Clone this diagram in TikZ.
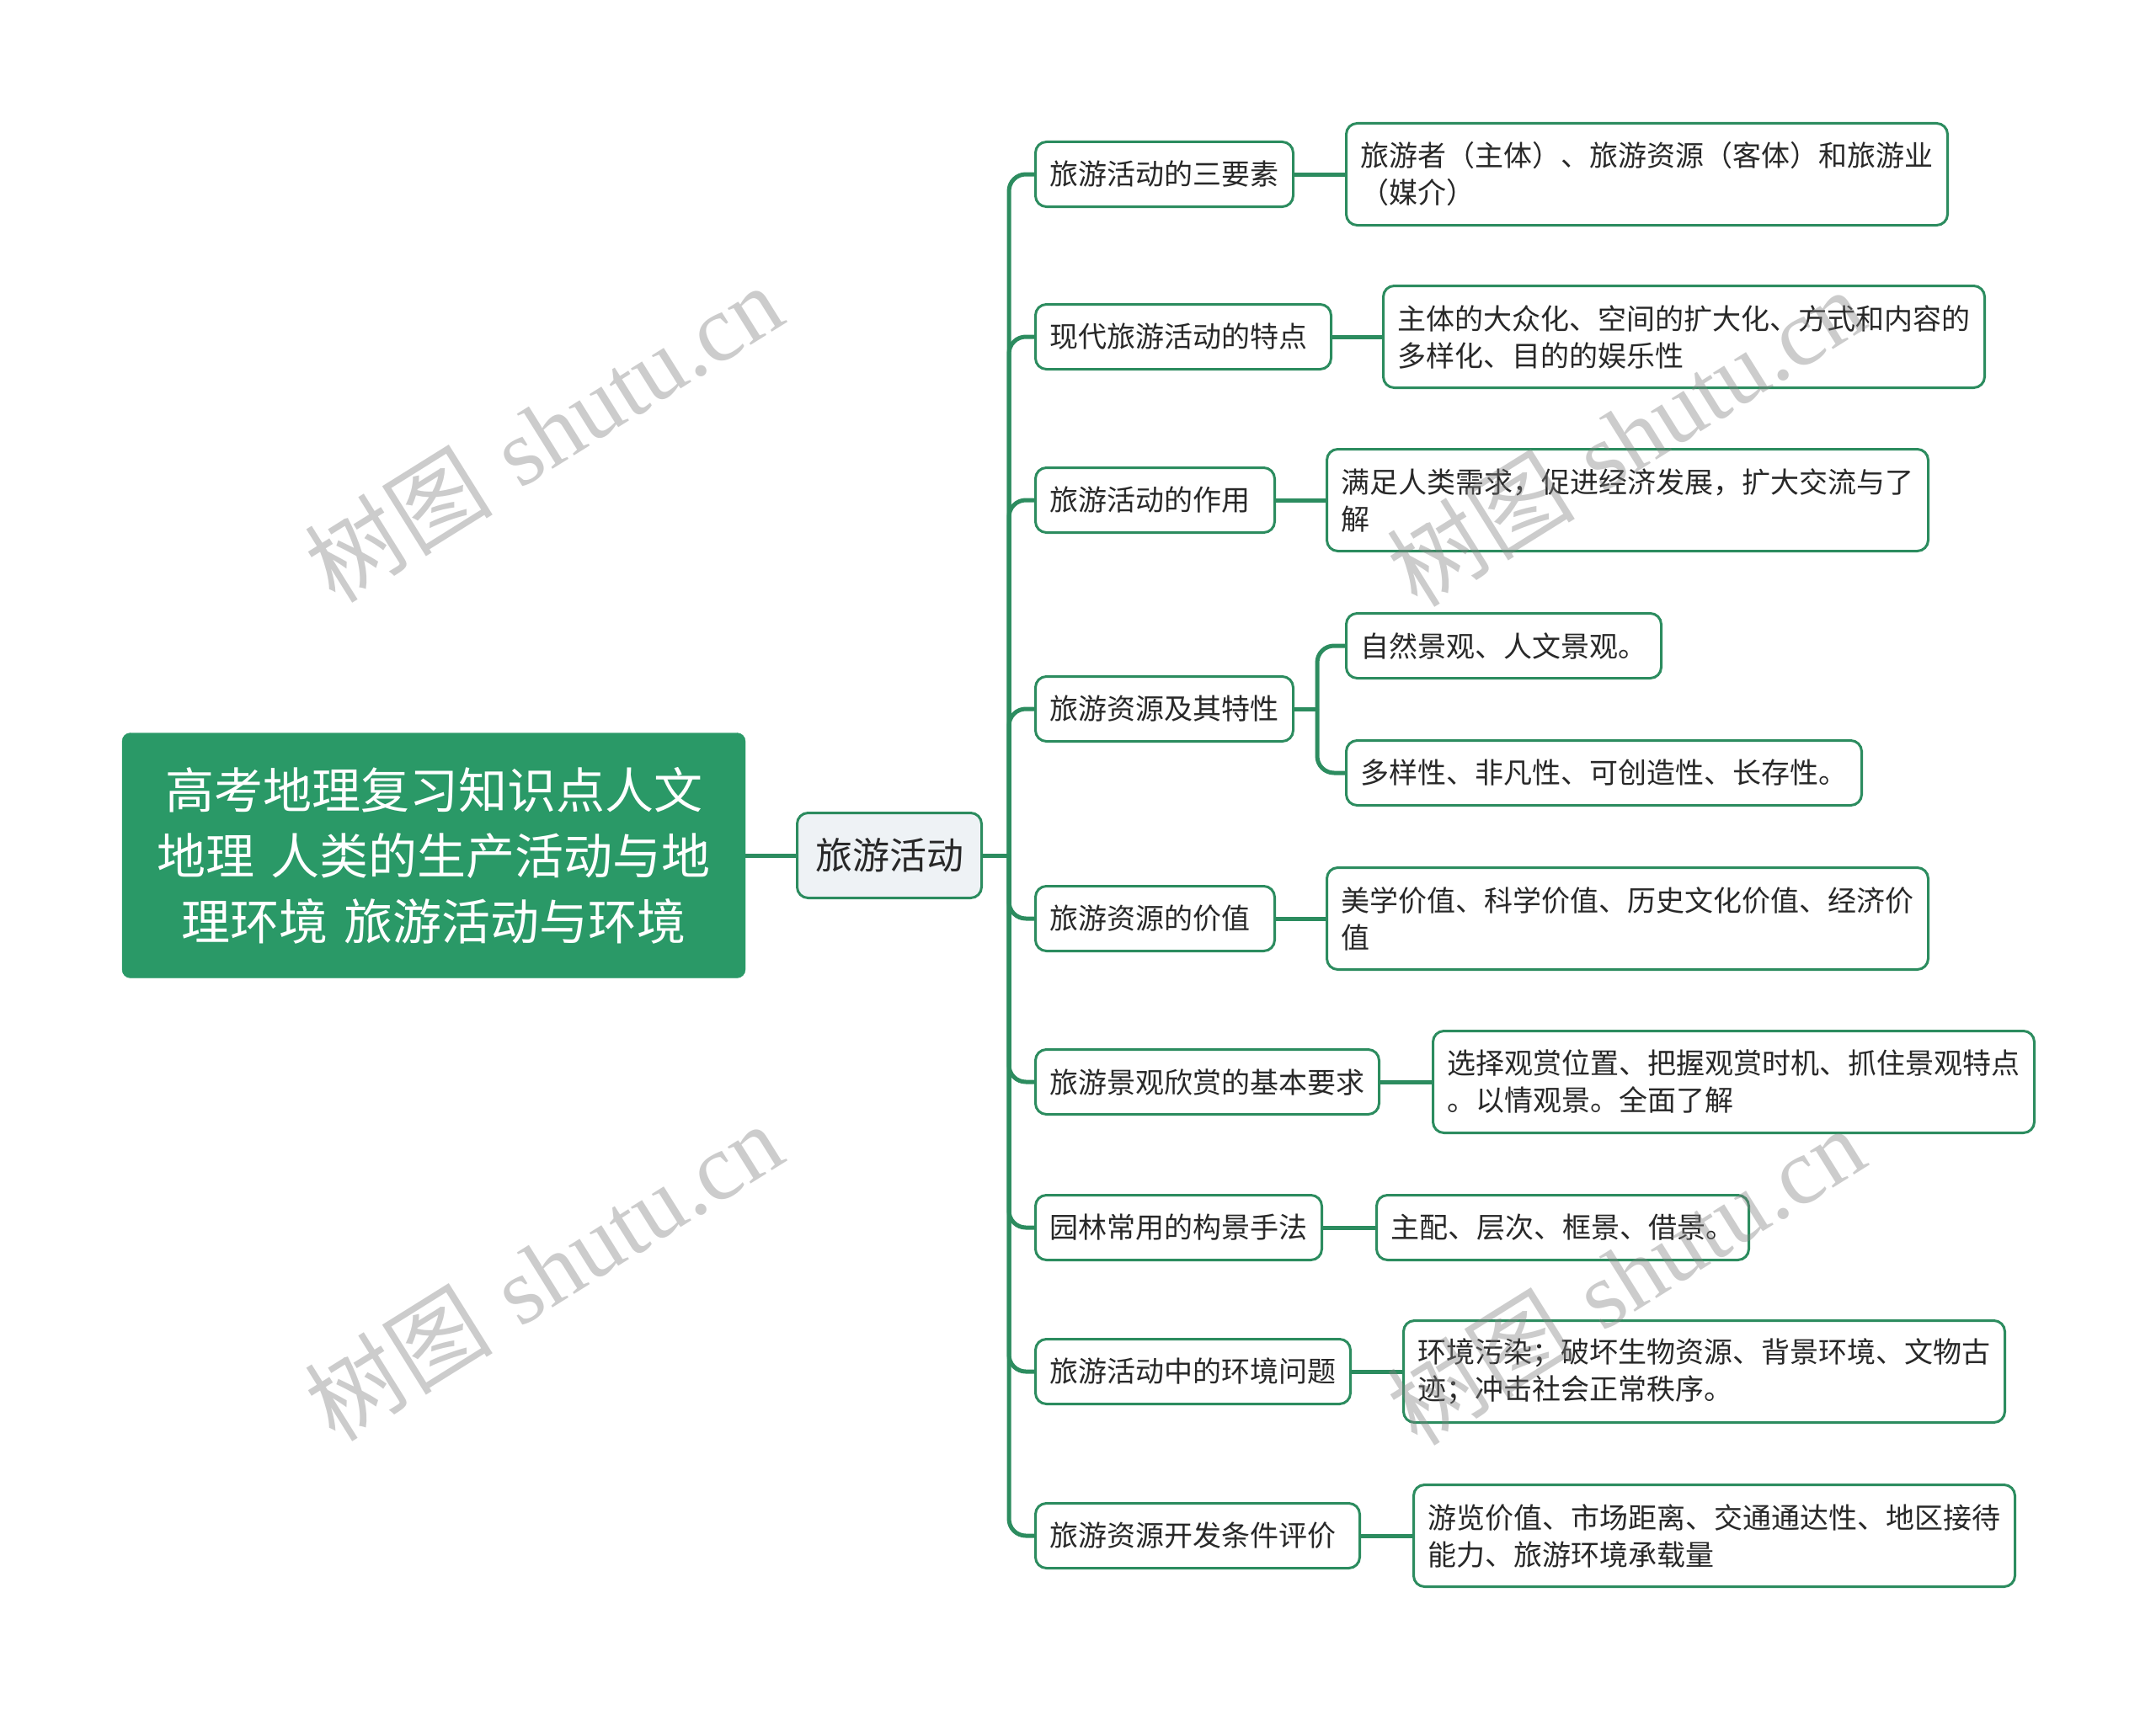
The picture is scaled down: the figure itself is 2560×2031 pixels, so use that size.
\documentclass[tikz,border=0pt]{standalone}
\usepackage{fontspec}
\newfontfamily\cjk{Noto Sans CJK SC}
\newfontfamily\wmlat{Liberation Serif}
\definecolor{rootgreen}{RGB}{42,153,103}
\definecolor{linegreen}{RGB}{44,140,95}
\definecolor{lvlfill}{RGB}{238,242,245}
\definecolor{txt}{RGB}{40,40,40}
\begin{document}
\begin{tikzpicture}[x=1pt,y=-1pt,
 rootbox/.style={draw=rootgreen, fill=rootgreen, rounded corners=10pt, text=white, minimum width=740pt, minimum height=291pt, text width=700pt, align=center, font=\cjk\fontsize{58}{78}\selectfont, inner sep=0pt},
 lonebox/.style={draw=linegreen, line width=3pt, fill=lvlfill, rounded corners=13pt, minimum width=219pt, minimum height=101pt, font=\cjk\fontsize{44}{52}\selectfont, text=txt},
 ltwobox/.style={draw=linegreen, line width=3pt, fill=white, rounded corners=13pt, minimum height=77pt, inner xsep=17pt, font=\cjk\fontsize{34}{44}\selectfont, text=txt, anchor=west},
 widebox/.style={ltwobox, text width=#1, align=left},
 lthreebox/.style={ltwobox, align=left},
 lthreetwo/.style={lthreebox, minimum height=121pt},
 conn/.style={draw=linegreen, line width=5pt, rounded corners=20pt},
 wmark/.style={text=black!50, opacity=0.4, rotate=32, font=\fontsize{112}{112}\selectfont}
]
\fill[white] (0,0) rectangle (2560,2031);
\useasboundingbox (0,0) rectangle (2560,2031);

\node[rootbox] (root) at (515,1016) {高考地理复习知识点人文\\地理 人类的生产活动与地\\理环境 旅游活动与环境};
\node[lonebox] (l1) at (1056,1016) {旅游活动};

\node[ltwobox] (a1) at (1228,207) {旅游活动的三要素};
\node[widebox=317pt] (a2) at (1228,400) {现代旅游活动的特点};
\node[widebox=250pt] (a3) at (1228,594) {旅游活动的作用};
\node[ltwobox] (a4) at (1228,842) {旅游资源及其特性};
\node[widebox=250pt] (a5) at (1228,1091) {旅游资源的价值};
\node[ltwobox] (a6) at (1228,1285) {旅游景观欣赏的基本要求};
\node[ltwobox] (a7) at (1228,1458) {园林常用的构景手法};
\node[ltwobox] (a8) at (1228,1629) {旅游活动中的环境问题};
\node[widebox=351pt] (a9) at (1228,1824) {旅游资源开发条件评价};

\node[lthreetwo] (b1) at (1597,207) {旅游者（主体）、旅游资源（客体）和旅游业\\（媒介）};
\node[lthreetwo] (b2) at (1641,400) {主体的大众化、空间的扩大化、方式和内容的\\多样化、目的的娱乐性};
\node[lthreetwo] (b3) at (1574,594) {满足人类需求，促进经济发展，扩大交流与了\\解};
\node[lthreebox] (b4a) at (1597,767) {自然景观、人文景观。};
\node[lthreebox] (b4b) at (1597,918) {多样性、非凡性、可创造性、长存性。};
\node[lthreetwo] (b5) at (1574,1091) {美学价值、科学价值、历史文化价值、经济价\\值};
\node[lthreetwo] (b6) at (1700,1285) {选择观赏位置、把握观赏时机、抓住景观特点\\。以情观景。全面了解};
\node[lthreebox] (b7) at (1633,1458) {主配、层次、框景、借景。};
\node[lthreetwo] (b8) at (1665,1629) {环境污染；破坏生物资源、背景环境、文物古\\迹；冲击社会正常秩序。};
\node[lthreetwo] (b9) at (1677,1824) {游览价值、市场距离、交通通达性、地区接待\\能力、旅游环境承载量};

\coordinate (t0) at (1198,1016);
\coordinate (t4) at (1564,842);
\draw[conn] (root.east) -- (l1.west);
\draw[conn] (l1.east) -- (t0);
\foreach \i in {1,...,9} {\draw[conn] (t0) |- (a\i.west);}
\draw[conn] (a1.east) -- (b1.west);
\draw[conn] (a2.east) -- (b2.west);
\draw[conn] (a3.east) -- (b3.west);
\draw[conn] (a4.east) -- (t4);
\draw[conn] (t4) |- (b4a.west);
\draw[conn] (t4) |- (b4b.west);
\draw[conn] (a5.east) -- (b5.west);
\draw[conn] (a6.east) -- (b6.west);
\draw[conn] (a7.east) -- (b7.west);
\draw[conn] (a8.east) -- (b8.west);
\draw[conn] (a9.east) -- (b9.west);

\node[wmark] (w1) at (645,514) {{\cjk 树图} {\wmlat shutu.cn}};
\node[wmark] (w2) at (645,1510) {{\cjk 树图} {\wmlat shutu.cn}};
\node[wmark] (w3) at (1930,519) {{\cjk 树图} {\wmlat shutu.cn}};
\node[wmark] (w4) at (1930,1515) {{\cjk 树图} {\wmlat shutu.cn}};
\end{tikzpicture}
\end{document}
